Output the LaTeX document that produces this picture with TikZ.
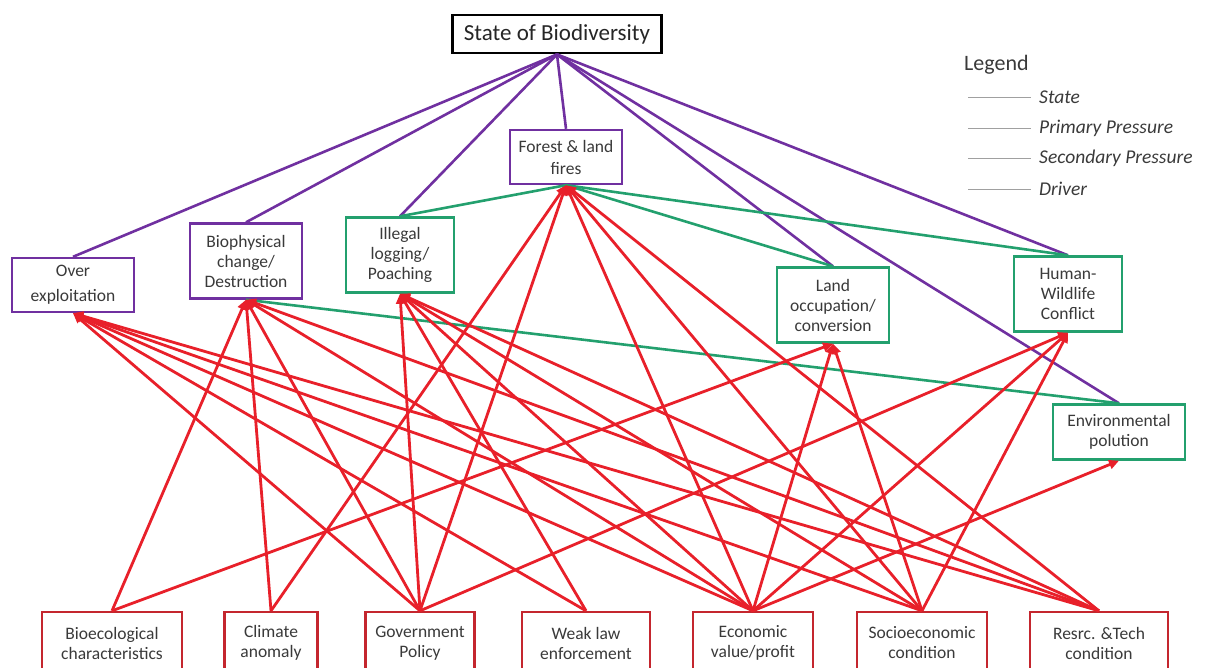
\documentclass[tikz,border=0pt]{standalone}
\usepackage{fontspec}
\setmainfont{Carlito}
\usetikzlibrary{arrows.meta}
\definecolor{purp}{HTML}{7030A0}
\definecolor{grn}{HTML}{23A06E}
\definecolor{redl}{HTML}{E8202A}
\definecolor{redb}{HTML}{C4262E}
\definecolor{txtc}{HTML}{3A3A3A}
\definecolor{legc}{HTML}{A0A0A0}
\tikzset{
  bx/.style={draw, fill=white, line width=2.4pt, align=center, inner sep=0pt,
    text=txtc, font=\fontsize{17.5}{20}\selectfont},
  pbox/.style={bx, draw=purp},
  gbox/.style={bx, draw=grn},
  rbox/.style={bx, draw=redb},
  stline/.style={draw=purp, line width=2.6pt},
  prline/.style={draw=grn, line width=2.6pt},
  drvline/.style={draw=redl, line width=2.8pt, -{Triangle[length=10pt,width=9pt]}},
  legline/.style={draw=legc, line width=0.9pt},
  legtxt/.style={anchor=west, text=txtc, font=\fontsize{19.5}{22}\selectfont\itshape, inner sep=0pt}
}
\begin{document}
\begin{tikzpicture}[x=1pt,y=-1pt]
\useasboundingbox (0,0) rectangle (1205,667);
\clip (0,0) rectangle (1205,667);
% state
\node[bx, draw=black, line width=2.8pt, minimum width=209pt, minimum height=38pt,
  font=\fontsize{23}{26}\selectfont, text=black!85] (SoB) at (557,34) {State of Biodiversity};
% pressures
\node[pbox, minimum width=112pt, minimum height=54pt] (FLF) at (566,157) {Forest \& land\\[2pt]fires};
\node[pbox, minimum width=122pt, minimum height=54pt] (OE) at (73,285) {Over\\[5pt]exploitation};
\node[pbox, minimum width=112pt, minimum height=75pt] (BC) at (246,261) {Biophysical\\change/\\Destruction};
\node[gbox, minimum width=108pt, minimum height=75pt] (IL) at (400,255) {Illegal\\logging/\\Poaching};
\node[gbox, minimum width=112pt, minimum height=75pt] (LO) at (833,305) {Land\\occupation/\\conversion};
\node[gbox, minimum width=108pt, minimum height=75pt] (HW) at (1068,294) {Human-\\Wildlife\\Conflict};
\node[gbox, minimum width=132pt, minimum height=55pt] (EP) at (1119,432) {Environmental\\polution};
% drivers
\node[rbox, minimum width=140pt, minimum height=62pt] (BE) at (112,643) {Bioecological\\characteristics};
\node[rbox, minimum width=93pt, minimum height=62pt] (CA) at (271,643) {Climate\\anomaly};
\node[rbox, minimum width=109pt, minimum height=62pt] (GP) at (420,643) {Government\\Policy};
\node[rbox, minimum width=128pt, minimum height=62pt] (WL) at (586,643) {Weak law\\enforcement};
\node[rbox, minimum width=120pt, minimum height=62pt] (EV) at (753,643) {Economic\\value/profit};
\node[rbox, minimum width=130pt, minimum height=62pt] (SE) at (922,643) {Socioeconomic\\condition};
\node[rbox, minimum width=138pt, minimum height=62pt] (RT) at (1099,643) {Resrc. \&Tech\\condition};
% state links
\foreach \t in {OE,BC,IL,FLF,LO,HW,EP} \draw[stline] (SoB.south) -- (\t.north);
% secondary pressure links
\foreach \t in {IL,LO,HW} \draw[prline] (FLF.south) -- (\t.north);
\draw[prline] (BC.south) -- (EP.north);
% drivers
\foreach \s/\t in {BE/BC, BE/LO, CA/BC, CA/FLF,
  GP/OE, GP/BC, GP/IL, GP/FLF, GP/HW,
  WL/OE, WL/IL,
  EV/OE, EV/BC, EV/IL, EV/FLF, EV/LO, EV/HW, EV/EP,
  SE/OE, SE/IL, SE/FLF, SE/LO, SE/HW,
  RT/OE, RT/BC, RT/IL, RT/FLF}
  \draw[drvline] (\s.north) -- (\t.south);
% legend
\node[anchor=west, inner sep=0pt, text=txtc, font=\fontsize{22}{24}\selectfont] (LEG) at (964,65) {Legend};
\coordinate (l1a) at (968,97); \coordinate (l1b) at (1031,97);
\coordinate (l2a) at (968,128); \coordinate (l2b) at (1031,128);
\coordinate (l3a) at (968,158); \coordinate (l3b) at (1031,158);
\coordinate (l4a) at (968,189); \coordinate (l4b) at (1031,189);
\draw[legline] (l1a) -- (l1b); \draw[legline] (l2a) -- (l2b);
\draw[legline] (l3a) -- (l3b); \draw[legline] (l4a) -- (l4b);
\node[legtxt] (t1) at (1039,97) {State};
\node[legtxt] (t2) at (1039,128) {Primary Pressure};
\node[legtxt] (t3) at (1039,158) {Secondary Pressure};
\node[legtxt] (t4) at (1039,189) {Driver};
\end{tikzpicture}
\end{document}
